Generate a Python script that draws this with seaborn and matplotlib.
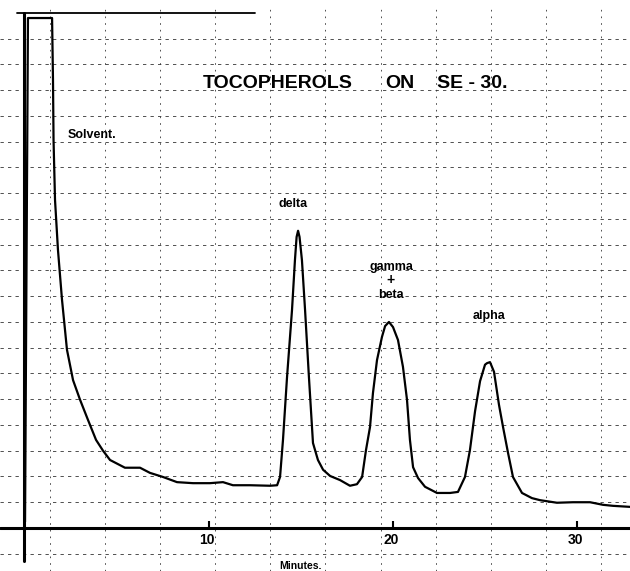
import matplotlib
matplotlib.use("Agg")
import matplotlib.pyplot as plt
import seaborn as sns
import pandas as pd

# chromatogram trace: time (minutes) and pen deflection (% of full scale)
minutes = [0.00, 0.16, 1.47, 1.52, 1.55, 1.63, 1.79, 2.01, 2.28, 2.61, 2.99, 3.42, 3.86,
           4.24, 4.62, 5.43, 6.25, 6.79, 7.50, 8.26, 9.13, 10.05, 10.76, 11.30, 12.23,
           13.32, 13.70, 13.86, 14.02, 14.24, 14.51, 14.67, 14.76, 14.84, 14.92, 15.05,
           15.22, 15.43, 15.65, 15.92, 16.20, 16.58, 17.12, 17.66, 18.04, 18.32, 18.53,
           18.75, 18.91, 19.13, 19.40, 19.57, 19.78, 20.00, 20.27, 20.54, 20.76, 20.92,
           21.09, 21.36, 21.74, 22.39, 23.10, 23.53, 23.91, 24.18, 24.46, 24.73, 25.00,
           25.11, 25.27, 25.33, 25.49, 25.76, 25.98, 26.25, 26.52, 27.01, 27.55, 27.99,
           28.91, 29.78, 30.71, 31.41, 31.96, 32.88]
signal = [1.2, 99.0, 99.0, 87.0, 75.3, 63.7, 54.0, 44.3, 34.6, 28.7, 24.9, 21.0, 17.1,
          15.0, 13.2, 11.7, 11.7, 10.7, 9.9, 8.9, 8.7, 8.7, 8.9, 8.3, 8.3,
          8.2, 8.3, 9.9, 17.1, 29.3, 42.3, 52.0, 56.5, 57.7, 56.5, 52.0,
          42.3, 29.3, 16.5, 13.2, 11.3, 10.1, 9.3, 8.2, 8.5, 9.9, 15.1,
          19.6, 26.2, 32.6, 37.1, 39.2, 40.0, 39.0, 36.5, 31.3, 24.9, 17.1,
          11.8, 9.7, 8.0, 6.8, 6.8, 7.0, 9.9, 15.1, 22.7, 28.5, 31.7,
          32.0, 32.2, 31.7, 30.3, 23.9, 19.6, 14.6, 9.9, 6.8, 5.8, 5.4,
          4.9, 5.0, 5.0, 4.5, 4.3, 4.1]

tick_minutes = [10, 20, 30]
tick_labels = ["10", "20", "30"]

# chart paper rulings
h_rules = [-5, 5, 10, 15, 20, 25, 30, 35, 40, 45, 50, 55, 60, 65, 70, 75, 80, 85, 90, 95]
v_rules = [1.36, 4.35, 7.34, 10.33, 13.32, 16.30, 19.35, 22.34, 25.33, 28.32, 31.30]

peak_names = ["Solvent.", "delta", "gamma", "+", "beta", "alpha"]
peak_x = [2.34, 13.75, 19.89, 19.89, 19.89, 24.35]
peak_y = [75.7, 62.3, 50.1, 48.2, 44.7, 40.6]

sns.set_style("white")
plt.rcParams["font.family"] = ["Liberation Sans", "DejaVu Sans"]
plt.rcParams["text.color"] = "black"

fig = plt.figure(figsize=(6.3, 5.71), dpi=100)
ax = fig.add_axes([0, 0, 1, 1])
ax.set_xlim(-1.36, 32.88)
ax.set_ylim(-8.35, 102.5)
ax.axis("off")

for y in h_rules:
    ax.axhline(y, color="#333333", lw=0.6, ls=(0, (4, 5)), zorder=1)
for x in v_rules:
    ax.axvline(x, ymax=0.985, color="#333333", lw=0.6, ls=(0, (2, 6)), zorder=1)

# top ruling, baseline and left edge of the recorder paper
ax.plot([-0.45, 12.5], [100, 100], color="black", lw=1.3, zorder=2)
ax.axhline(0, color="black", lw=2.2, zorder=2)
ax.plot([-0.05, -0.05], [-6.5, 100], color="black", lw=2.2, zorder=2)

trace = pd.DataFrame({"minutes": minutes, "signal": signal})
sns.lineplot(data=trace, x="minutes", y="signal", sort=False, estimator=None,
             color="black", lw=1.6, ax=ax, zorder=3)

ax.scatter(tick_minutes, [0.8] * len(tick_minutes), marker="|", s=20, color="black", zorder=3)
for t, lab in zip(tick_minutes, tick_labels):
    ax.text(t - 0.1, -2.4, lab, ha="center", va="center", fontsize=10, fontweight="bold")
ax.text(14.95, -7.4, "Minutes.", ha="center", va="center", fontsize=7.5, fontweight="bold")

ax.text(9.67, 85.4, "TOCOPHEROLS", ha="left", va="baseline", fontsize=14, fontweight="bold")
ax.text(19.57, 85.4, "ON", ha="left", va="baseline", fontsize=14, fontweight="bold")
ax.text(22.39, 85.4, "SE - 30.", ha="left", va="baseline", fontsize=14, fontweight="bold")

for name, x, y in zip(peak_names, peak_x, peak_y):
    if name == "+":
        ax.text(x, y, name, ha="center", va="center", fontsize=10, fontweight="bold")
    elif name in ("gamma", "beta"):
        ax.text(x, y, name, ha="center", va="baseline", fontsize=9, fontweight="bold")
    else:
        ax.text(x, y, name, ha="left", va="baseline", fontsize=9, fontweight="bold")

fig.savefig("out.png", dpi=100)
